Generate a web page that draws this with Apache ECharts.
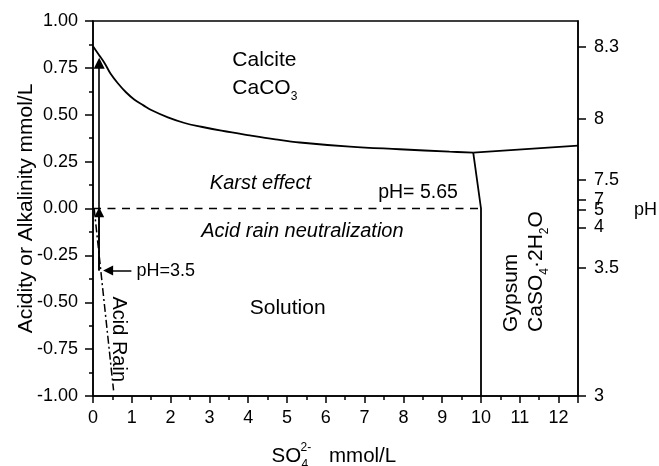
<!DOCTYPE html>
<html>
<head>
<meta charset="utf-8">
<script src="https://cdn.jsdelivr.net/npm/echarts@6/dist/echarts.min.js"></script>
<style>
html, body { margin: 0; padding: 0; background: #fff; }
#chart { width: 659px; height: 466px; }
</style>
</head>
<body>
<div id="chart"></div>
<script>
// Calcite saturation boundary: SO4 (mmol/L) against alkalinity (mmol/L)
const calciteX = [0, 0.15, 0.3, 0.45, 0.64, 0.85, 1.07, 1.3, 1.5, 1.93, 2.36, 2.79, 3.31, 4.04, 4.7, 5.33, 6.62, 7.9, 9.19, 9.8];
const calciteY = [0.865, 0.82, 0.775, 0.72, 0.668, 0.62, 0.58, 0.55, 0.525, 0.486, 0.456, 0.436, 0.415, 0.39, 0.369, 0.352, 0.33, 0.316, 0.303, 0.298];
// Gypsum boundary (triple point down to the SO4 = 10 limit)
const gypsumX = [9.8, 10, 10];
const gypsumY = [0.298, 0, -1];
// Calcite / gypsum boundary to the right edge
const upperX = [9.8, 12.5];
const upperY = [0.298, 0.335];
// pH 5.65 level (zero acidity/alkalinity)
const neutralX = [0, 10];
const neutralY = [0, 0];
// Acid rain trend
const acidRainX = [0.03, 0.53];
const acidRainY = [0, -0.97];
// Neutralization arrows
const riseX = [0.16, 0.16];
const riseY = [-0.33, 0.775];
const riseToZeroY = [-0.33, -0.02];
const ph35X = [0.99, 0.39];
const ph35Y = [-0.33, -0.33];
// pH scale on the right-hand axis (alkalinity position -> pH label)
const phTickValues = [0.863, 0.477, 0.152, 0.045, -0.008, -0.1, -0.316, -1];
const phTickLabels = ['8.3', '8', '7.5', '7', '5', '4', '3.5', '3'];
// Text annotations inside the plot
const noteText = ['Calcite', 'CaCO{s|3}', 'Karst effect', 'pH= 5.65', 'Acid rain neutralization',
  'Solution', 'pH=3.5', 'Acid Rain', 'Gypsum', 'CaSO{s|4}·2H{s|2}O'];
const noteX = [3.59, 3.59, 3.01, 7.35, 2.79, 4.04, 1.12, 0.665, 10.77, 11.41];
const noteY = [0.792, 0.643, 0.134, 0.084, -0.124, -0.53, -0.332, -0.469, -0.658, -0.658];

const FONT = '"Liberation Sans", Arial, Helvetica, sans-serif';
const zip = (xs, ys) => xs.map((x, i) => [x, ys[i]]);

// per-annotation look
const noteLook = {
  'Karst effect': { fontStyle: 'italic', fontSize: 20 },
  'Acid rain neutralization': { fontStyle: 'italic', fontSize: 20 },
  'pH= 5.65': { fontSize: 19.5 },
  'pH=3.5': { fontSize: 18 },
  'Acid Rain': { fontSize: 20, rotate: -90 },
  'Gypsum': { fontSize: 21, rotate: 90 },
  'CaSO{s|4}·2H{s|2}O': { fontSize: 21, rotate: 90 }
};

const noteData = noteText.map((t, i) => {
  const look = noteLook[t] || { fontSize: 21 };
  return {
    value: [noteX[i], noteY[i]],
    label: {
      show: true,
      position: 'inside',
      align: 'left',
      verticalAlign: 'middle',
      formatter: t,
      color: '#000',
      opacity: 1,
      textBorderWidth: 0,
      textShadowBlur: 0,
      fontFamily: FONT,
      fontSize: look.fontSize,
      fontStyle: look.fontStyle || 'normal',
      rotate: look.rotate || 0,
      rich: {
        s: { fontSize: 12, fontFamily: FONT, color: '#000', textBorderWidth: 0, padding: [17, 0, 0, 0] }
      }
    }
  };
});

const blackLine = (w) => ({ color: '#000', width: w });
const axisText = { color: '#000', fontFamily: FONT, fontSize: 18 };

const chart = echarts.init(document.getElementById('chart'), null, { renderer: 'canvas' });

chart.setOption({
  animation: false,
  backgroundColor: '#fff',
  grid: {
    left: 93, right: 81, top: 21, bottom: 70,
    show: true, borderColor: '#000', borderWidth: 1.5,
    containLabel: false, outerBoundsMode: 'none'
  },
  xAxis: {
    type: 'value', min: 0, max: 12.5, interval: 1,
    axisLine: { show: true, onZero: false, lineStyle: blackLine(1.5) },
    axisTick: { show: true, inside: false, length: 7, lineStyle: blackLine(1.5) },
    minorTick: { show: true, splitNumber: 2, length: 4, lineStyle: blackLine(1.5) },
    axisLabel: Object.assign({ margin: 13, showMaxLabel: false }, axisText),
    splitLine: { show: false },
    minorSplitLine: { show: false }
  },
  yAxis: [
    {
      type: 'value', min: -1, max: 1, interval: 0.25, position: 'left',
      name: 'Acidity or Alkalinity mmol/L',
      nameLocation: 'middle', nameRotate: 90, nameGap: 56, nameMoveOverlap: false,
      nameTextStyle: { color: '#000', fontFamily: FONT, fontSize: 21 },
      axisLine: { show: true, onZero: false, lineStyle: blackLine(1.5) },
      axisTick: { show: true, inside: false, length: 8, lineStyle: blackLine(1.5) },
      minorTick: { show: true, splitNumber: 2, length: 4, lineStyle: blackLine(1.5) },
      axisLabel: Object.assign({ margin: 15, formatter: v => v.toFixed(2) }, axisText),
      splitLine: { show: false },
      minorSplitLine: { show: false }
    },
    {
      type: 'value', min: -1, max: 1, position: 'right',
      axisLine: { show: true, onZero: false, lineStyle: blackLine(1.5) },
      axisTick: { show: true, inside: false, length: 8, customValues: phTickValues, lineStyle: blackLine(1.5) },
      axisLabel: Object.assign({
        margin: 16,
        customValues: phTickValues,
        formatter: v => {
          let best = 0;
          phTickValues.forEach((p, i) => { if (Math.abs(p - v) < Math.abs(phTickValues[best] - v)) best = i; });
          return phTickLabels[best];
        }
      }, axisText),
      splitLine: { show: false }
    }
  ],
  graphic: [
    { type: 'text', x: 634, y: 210, style: { text: 'pH', fill: '#000', font: '18px ' + FONT, verticalAlign: 'middle' } },
    { type: 'text', x: 271.5, y: 456, style: { text: 'SO', fill: '#000', font: '20.5px ' + FONT, verticalAlign: 'middle' } },
    { type: 'text', x: 300.5, y: 448, style: { text: '2-', fill: '#000', font: '12px ' + FONT, verticalAlign: 'middle' } },
    { type: 'text', x: 301.5, y: 465, style: { text: '4', fill: '#000', font: '12px ' + FONT, verticalAlign: 'middle' } },
    { type: 'text', x: 329, y: 456, style: { text: 'mmol/L', fill: '#000', font: '20.5px ' + FONT, verticalAlign: 'middle' } }
  ],
  series: [
    {
      name: 'calcite', type: 'line', data: zip(calciteX, calciteY),
      smooth: 0.4,
      symbol: 'none', lineStyle: blackLine(1.8), silent: true
    },
    {
      name: 'gypsum', type: 'line', data: zip(gypsumX, gypsumY),
      symbol: 'none', lineStyle: blackLine(1.8), silent: true
    },
    {
      name: 'upper', type: 'line', data: zip(upperX, upperY),
      symbol: 'none', lineStyle: blackLine(1.8), silent: true
    },
    {
      name: 'pH 5.65', type: 'line', data: zip(neutralX, neutralY),
      symbol: 'none', lineStyle: { color: '#000', width: 1.6, type: [8, 6.5] }, silent: true
    },
    {
      name: 'acid rain', type: 'line', data: zip(acidRainX, acidRainY),
      symbol: 'none', lineStyle: { color: '#000', width: 1.5, type: [8, 3, 2, 3] }, silent: true
    },
    {
      name: 'arrows', type: 'lines', coordinateSystem: 'cartesian2d',
      symbol: ['none', 'triangle'], symbolSize: [8, 11],
      lineStyle: { color: '#000', width: 1.6, opacity: 1, curveness: 0 },
      itemStyle: { color: '#000' },
      silent: true,
      data: [
        { coords: zip(riseX, riseY) },
        { coords: zip(riseX, riseToZeroY), symbolSize: [7, 10] },
        { coords: zip(ph35X, ph35Y), symbolSize: [7, 10] }
      ]
    },
    {
      name: 'notes', type: 'scatter', symbolSize: 1,
      itemStyle: { color: 'rgba(0,0,0,0)' },
      emphasis: { disabled: true }, silent: true,
      data: noteData
    }
  ]
});
</script>
</body>
</html>
